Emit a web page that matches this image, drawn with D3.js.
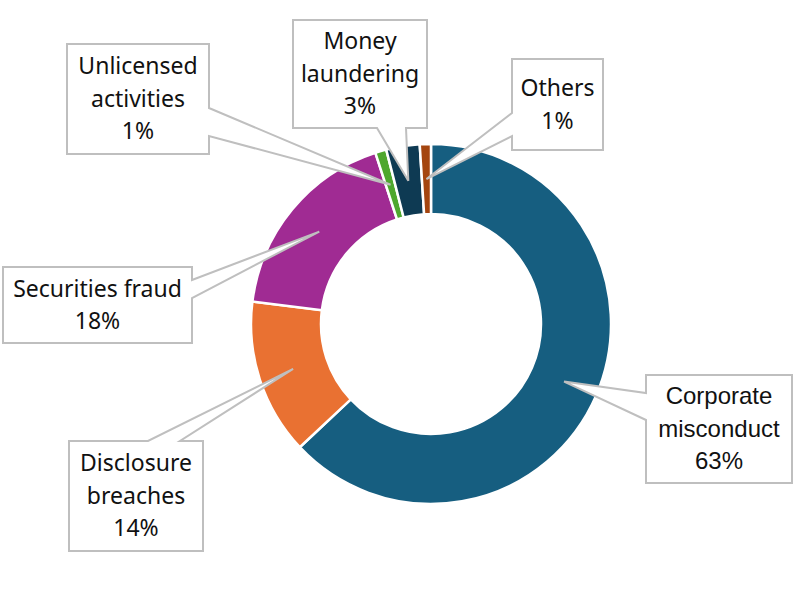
<!DOCTYPE html>
<html>
<head>
<meta charset="utf-8">
<script src="https://cdn.jsdelivr.net/npm/d3@7"></script>
<style>
  body { margin: 0; background: #fff; }
  svg { display: block; }
</style>
</head>
<body>
<svg id="chart"></svg>
<script>
// data
var categories = ["Corporate misconduct", "Disclosure breaches", "Securities fraud",
                  "Unlicensed activities", "Money laundering", "Others"];
var values = [63, 14, 18, 1, 3, 1];
var colors = ["#165e80", "#e97132", "#a02b93", "#4ea72e", "#0e3a53", "#a4450f"];

// callout boxes (layout only): box, edge the pointer leaves from, and the two points on it
var callouts = [
  {x: 646, y: 375, w: 146, h: 108, edge: "left",   a: [393, 420], wrap: true,  font: "Liberation Sans", size: 24},
  {x: 69,  y: 441, w: 134, h: 110, edge: "top",    a: [148, 180], wrap: true,  font: "Noto Sans", size: 23},
  {x: 3,   y: 267, w: 189, h: 76,  edge: "right",  a: [280, 298], wrap: false, font: "Noto Sans", size: 23},
  {x: 67,  y: 44,  w: 142, h: 110, edge: "right",  a: [108, 136], wrap: true,  font: "Noto Sans", size: 23},
  {x: 293, y: 20,  w: 134, h: 108, edge: "bottom", a: [377, 406], wrap: true,  font: "Noto Sans", size: 23},
  {x: 512, y: 59,  w: 91,  h: 91,  edge: "left",   a: [113, 136], wrap: true,  font: "Noto Sans", size: 23}
];

var width = 800, height = 600;
var cx = 431, cy = 324;
var outerR = 180, innerR = 110;

var svg = d3.select("#chart").attr("width", width).attr("height", height);

var pie = d3.pie().sort(null).value(function(d) { return d; });
var arc = d3.arc().innerRadius(innerR).outerRadius(outerR);
var arcs = pie(values);

var g = svg.append("g").attr("transform", "translate(" + cx + "," + cy + ")");

g.selectAll("path.slice")
  .data(arcs)
  .enter().append("path")
  .attr("class", "slice")
  .attr("d", arc)
  .attr("fill", function(d, i) { return colors[i]; })
  .attr("stroke", "#fff")
  .attr("stroke-width", 2.5);

// box outline with the pointer wedge spliced into one edge
function calloutPath(c, tip)
{
  var x0 = c.x, y0 = c.y, x1 = c.x + c.w, y1 = c.y + c.h;
  var pts = [];
  pts.push([x0, y0]);
  if (c.edge == "top") { pts.push([c.a[0], y0], tip, [c.a[1], y0]); }
  pts.push([x1, y0]);
  if (c.edge == "right") { pts.push([x1, c.a[0]], tip, [x1, c.a[1]]); }
  pts.push([x1, y1]);
  if (c.edge == "bottom") { pts.push([c.a[1], y1], tip, [c.a[0], y1]); }
  pts.push([x0, y1]);
  if (c.edge == "left") { pts.push([x0, c.a[1]], tip, [x0, c.a[0]]); }
  return "M" + pts.map(function(p) { return p[0] + "," + p[1]; }).join("L") + "Z";
}

var labels = svg.append("g");
var lineH = 32.5;

arcs.forEach(function(d, i) {
  var c = callouts[i];
  var cen = arc.centroid(d);
  var tip = [cx + cen[0], cy + cen[1]];

  labels.append("path")
    .attr("d", calloutPath(c, tip))
    .attr("fill", "#fff")
    .attr("stroke", "#bfbfbf")
    .attr("stroke-width", 2)
    .attr("stroke-linejoin", "miter");

  var lines = c.wrap ? categories[i].split(" ") : [categories[i]];
  lines.push(d3.format(".0f")(values[i]) + "%");

  var top = c.y + (c.h - lines.length * lineH) / 2 + 24;
  var t = labels.append("text")
    .attr("text-anchor", "middle")
    .attr("font-family", c.font + ", sans-serif")
    .attr("font-size", c.size)
    .attr("fill", "#111");
  lines.forEach(function(s, k) {
    t.append("tspan")
      .attr("x", c.x + c.w / 2)
      .attr("y", top + k * lineH)
      .text(s);
  });
});
</script>
</body>
</html>
